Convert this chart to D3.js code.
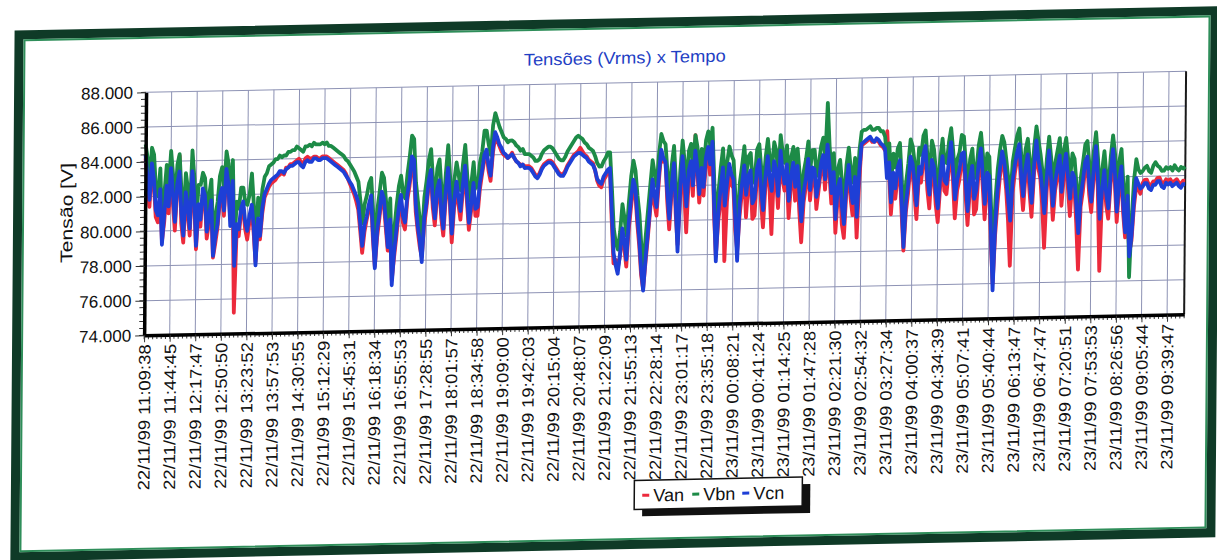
<!DOCTYPE html>
<html>
<head>
<meta charset="utf-8">
<script src="https://cdn.jsdelivr.net/npm/d3@7"></script>
<style>
  body { margin: 0; background: #ffffff; }
  svg { display: block; }
  text { font-family: Arial, "Liberation Sans", Helvetica, sans-serif; }
</style>
</head>
<body>
<svg id="chart" width="1217" height="560"></svg>
<script>
// Category labels along the time axis (one every twelve samples)
const timeLabels = [
  "22/11/99 11:09:38", "22/11/99 11:44:45", "22/11/99 12:17:47", "22/11/99 12:50:50",
  "22/11/99 13:23:52", "22/11/99 13:57:53", "22/11/99 14:30:55", "22/11/99 15:12:29",
  "22/11/99 15:45:31", "22/11/99 16:18:34", "22/11/99 16:55:53", "22/11/99 17:28:55",
  "22/11/99 18:01:57", "22/11/99 18:34:58", "22/11/99 19:09:00", "22/11/99 19:42:03",
  "22/11/99 20:15:04", "22/11/99 20:48:07", "22/11/99 21:22:09", "22/11/99 21:55:13",
  "22/11/99 22:28:14", "22/11/99 23:01:17", "22/11/99 23:35:18", "23/11/99 00:08:21",
  "23/11/99 00:41:24", "23/11/99 01:14:25", "23/11/99 01:47:28", "23/11/99 02:21:30",
  "23/11/99 02:54:32", "23/11/99 03:27:34", "23/11/99 04:00:37", "23/11/99 04:34:39",
  "23/11/99 05:07:41", "23/11/99 05:40:44", "23/11/99 06:13:47", "23/11/99 06:47:47",
  "23/11/99 07:20:51", "23/11/99 07:53:53", "23/11/99 08:26:56", "23/11/99 09:05:44",
  "23/11/99 09:39:47"
];
const samplesPerLabel = 12;

const yTicks = [74, 76, 78, 80, 82, 84, 86, 88];

const seriesNames = ["Van", "Vbn", "Vcn"];
const seriesColors = ["#ec2a3c", "#1d8b47", "#1e3fd6"];

// Phase-to-neutral RMS voltages [V], twelve readings per labelled interval
const van = [
  84.2, 82.8, 81.4, 83.6, 82.7, 80.8, 80.5, 82.1, 79.4, 80.5, 82.3, 81.0,
  83.2, 81.6, 80.0, 82.4, 84.3, 80.4, 79.3, 81.8, 81.0, 79.7, 83.0, 81.6,
  78.9, 81.1, 80.2, 82.1, 81.8, 79.5, 80.4, 81.4, 78.4, 79.2, 80.1, 81.6,
  82.1, 80.8, 83.3, 82.3, 80.6, 82.5, 75.2, 79.8, 79.6, 80.9, 81.3, 80.0,
  79.4, 80.4, 81.1, 79.8, 78.1, 80.2, 79.4, 80.9, 81.8, 82.1, 82.4, 82.6,
  82.7, 82.8, 83.0, 83.1, 83.2, 83.1, 83.5, 83.5, 83.7, 83.7, 83.8, 83.9,
  84.0, 83.8, 83.7, 84.0, 84.1, 84.0, 84.0, 84.1, 84.1, 84.0, 84.0, 84.1,
  84.1, 84.1, 84.0, 83.9, 83.8, 83.7, 83.6, 83.5, 83.4, 83.3, 83.1, 82.8,
  82.5, 82.2, 81.9, 81.5, 81.0, 79.8, 78.5, 79.7, 80.4, 81.0, 81.6, 79.3,
  77.7, 79.4, 80.5, 81.7, 81.3, 79.9, 78.6, 80.0, 76.9, 78.2, 79.4, 80.7,
  81.5, 80.2, 79.8, 81.5, 82.3, 83.5, 83.4, 80.8, 79.7, 78.8, 78.2, 80.0,
  81.0, 82.3, 83.0, 81.0, 80.0, 81.7, 82.3, 80.4, 79.4, 81.5, 83.0, 81.2,
  79.0, 81.0, 82.2, 81.2, 80.3, 81.9, 83.2, 81.3, 79.7, 80.8, 82.2, 80.5,
  80.5, 82.0, 82.9, 83.7, 84.2, 83.1, 82.5, 84.1, 85.0, 84.8, 84.5, 84.2,
  84.0, 83.9, 83.8, 83.9, 84.1, 83.8, 83.6, 83.5, 83.4, 83.4, 83.3, 83.3,
  83.3, 83.2, 83.0, 82.8, 82.7, 82.9, 83.2, 83.4, 83.5, 83.6, 83.6, 83.5,
  83.3, 83.1, 82.9, 82.8, 82.8, 83.0, 83.3, 83.5, 83.7, 83.9, 84.0, 84.1,
  84.3, 84.1, 83.9, 83.8, 83.6, 83.5, 83.4, 83.0, 82.4, 82.1, 82.0, 82.4,
  82.6, 82.9, 83.0, 80.1, 77.6, 77.8, 77.3, 78.0, 79.2, 78.5, 77.4, 79.5,
  80.8, 82.0, 81.6, 79.9, 78.6, 76.9, 76.1, 77.6, 79.0, 80.6, 82.1, 81.0,
  80.3, 82.3, 83.9, 83.4, 83.6, 81.1, 79.5, 81.6, 83.6, 80.4, 78.6, 81.2,
  83.4, 81.5, 79.3, 82.4, 83.0, 81.4, 84.9, 82.8, 81.0, 82.6, 81.4, 83.2,
  83.9, 82.6, 84.4, 80.3, 77.9, 79.9, 81.0, 82.6, 77.6, 81.0, 82.6, 82.0,
  81.8, 79.4, 78.2, 80.2, 81.5, 82.7, 80.1, 82.0, 82.4, 80.0, 80.2, 82.4,
  83.0, 81.0, 79.5, 81.8, 83.3, 81.6, 79.1, 82.8, 82.3, 80.6, 83.6, 82.2,
  81.6, 82.6, 80.0, 81.9, 82.8, 81.0, 82.6, 80.4, 78.6, 80.9, 81.8, 83.0,
  81.0, 82.4, 82.5, 80.5, 81.6, 82.7, 83.4, 81.6, 84.0, 82.5, 80.8, 82.1,
  79.1, 81.2, 81.8, 79.6, 78.8, 81.4, 82.6, 81.1, 80.1, 81.7, 78.8, 82.0,
  84.1, 84.2, 84.3, 84.4, 84.5, 84.3, 84.3, 84.4, 84.3, 84.1, 84.0, 83.8,
  84.9, 82.6, 80.1, 81.9, 81.0, 82.2, 82.8, 80.2, 78.0, 80.2, 81.3, 82.9,
  82.5, 81.2, 79.8, 82.3, 81.9, 83.1, 83.6, 81.5, 80.4, 82.7, 82.3, 80.6,
  79.6, 81.6, 83.0, 81.4, 81.2, 82.6, 83.8, 82.0, 79.8, 81.4, 82.0, 83.0,
  83.2, 81.1, 79.4, 81.5, 82.3, 80.0, 80.3, 82.4, 83.4, 81.6, 79.7, 81.8,
  81.7, 78.4, 76.0, 78.8, 80.6, 82.1, 83.2, 82.6, 81.4, 79.6, 77.0, 81.2,
  82.3, 83.1, 83.6, 81.6, 80.2, 82.1, 82.9, 81.2, 79.8, 82.2, 83.9, 82.6,
  82.0, 80.4, 78.0, 81.2, 83.2, 81.6, 79.6, 81.3, 82.1, 82.9, 80.4, 82.0,
  83.0, 81.4, 79.8, 81.8, 81.5, 79.4, 76.7, 80.3, 81.2, 82.5, 82.8, 81.0,
  80.0, 81.9, 83.4, 81.4, 76.6, 80.8, 82.0, 80.4, 79.6, 81.6, 83.2, 81.6,
  79.4, 81.3, 82.2, 79.9, 78.5, 80.4, 77.6, 78.3, 80.2, 81.4, 81.3, 81.0,
  81.6, 81.8, 81.8, 81.5, 81.5, 81.7, 81.7, 81.9, 81.9, 81.6, 81.6, 81.8,
  81.7, 81.8, 81.6, 81.7, 81.8, 81.6, 81.5, 81.7, 81.7
];
const vbn = [
  85.0, 84.2, 82.8, 84.8, 84.4, 82.4, 82.0, 83.6, 80.2, 82.2, 83.8, 82.6,
  84.6, 83.2, 81.6, 83.8, 84.4, 82.2, 80.8, 83.3, 82.4, 81.2, 84.6, 83.0,
  80.4, 82.6, 82.6, 83.3, 83.0, 81.0, 82.0, 82.9, 79.6, 80.8, 81.6, 83.1,
  83.6, 82.3, 84.5, 83.8, 81.4, 84.0, 79.2, 81.6, 81.2, 82.4, 82.4, 81.5,
  81.4, 82.0, 83.2, 81.4, 79.0, 81.8, 80.8, 82.3, 83.0, 83.2, 83.6, 83.7,
  83.8, 84.0, 84.0, 84.2, 84.1, 84.2, 84.2, 84.4, 84.4, 84.5, 84.5, 84.7,
  84.6, 84.5, 84.4, 84.7, 84.7, 84.8, 84.7, 84.9, 84.8, 84.8, 84.8, 84.9,
  84.8, 84.9, 84.7, 84.7, 84.6, 84.5, 84.4, 84.3, 84.2, 84.1, 83.9, 83.8,
  83.6, 83.4, 83.2, 82.9, 82.6, 81.5, 80.2, 81.3, 81.8, 82.5, 82.8, 80.9,
  79.0, 81.0, 82.0, 83.1, 82.8, 81.5, 80.0, 81.6, 77.8, 79.8, 81.2, 82.3,
  82.9, 81.9, 81.6, 83.0, 84.0, 85.2, 85.0, 82.5, 81.4, 80.3, 79.2, 81.6,
  82.6, 83.8, 84.4, 82.6, 81.6, 83.3, 83.8, 82.1, 81.0, 83.0, 84.6, 82.8,
  80.8, 82.6, 83.6, 82.9, 82.0, 83.5, 84.6, 82.9, 81.4, 82.4, 83.6, 82.1,
  82.2, 83.6, 84.2, 85.4, 85.4, 84.6, 84.0, 85.7, 86.4, 86.0, 85.6, 85.3,
  85.0, 84.9, 84.7, 84.8, 84.8, 84.7, 84.5, 84.4, 84.2, 84.3, 84.0, 84.0,
  84.0, 83.9, 83.8, 83.6, 83.6, 83.7, 84.0, 84.2, 84.3, 84.4, 84.4, 84.3,
  84.1, 83.9, 83.7, 83.6, 83.6, 83.8, 84.1, 84.3, 84.5, 84.7, 84.9, 85.0,
  84.9, 84.8, 84.6, 84.5, 84.3, 84.2, 84.1, 83.8, 83.4, 83.2, 83.2, 83.5,
  83.7, 84.0, 84.0, 81.9, 79.6, 78.8, 78.4, 79.4, 81.0, 80.2, 79.2, 81.1,
  82.6, 83.5, 82.9, 81.5, 80.4, 78.6, 77.4, 79.1, 80.6, 82.1, 83.5, 82.7,
  82.0, 83.9, 85.0, 84.6, 84.4, 82.8, 81.4, 83.2, 84.3, 82.2, 79.6, 82.8,
  84.6, 83.4, 82.0, 84.0, 84.4, 83.1, 84.9, 84.2, 82.6, 84.1, 83.0, 84.6,
  85.1, 84.3, 85.3, 82.2, 79.0, 81.6, 83.0, 84.1, 82.0, 83.3, 84.2, 83.7,
  83.4, 81.3, 79.0, 82.1, 83.1, 84.2, 82.6, 83.6, 83.8, 82.1, 82.4, 84.0,
  84.3, 82.9, 81.8, 83.5, 84.6, 83.4, 82.8, 84.4, 83.9, 82.5, 84.8, 83.8,
  83.2, 84.2, 82.3, 83.5, 84.1, 83.0, 84.0, 82.6, 81.2, 82.7, 83.4, 84.4,
  82.8, 83.9, 83.9, 82.4, 83.1, 84.1, 84.6, 83.4, 86.6, 84.1, 82.6, 83.7,
  81.2, 82.8, 83.3, 81.9, 81.0, 83.0, 84.0, 82.8, 82.0, 83.4, 81.4, 83.8,
  84.9, 85.0, 85.0, 85.1, 85.2, 85.0, 85.0, 85.1, 85.1, 84.9, 84.9, 84.6,
  83.3, 84.2, 82.0, 83.6, 82.8, 83.9, 84.2, 82.1, 79.6, 81.9, 83.0, 84.4,
  84.0, 83.0, 81.8, 83.9, 83.5, 84.6, 84.9, 83.3, 82.4, 84.3, 83.8, 82.5,
  81.6, 83.3, 84.4, 83.1, 83.0, 84.2, 85.0, 83.7, 82.1, 83.2, 83.6, 84.6,
  84.5, 82.9, 81.4, 83.2, 83.8, 82.1, 82.6, 84.0, 84.7, 83.4, 81.8, 83.5,
  83.3, 80.4, 77.0, 80.8, 82.6, 83.7, 84.5, 84.1, 83.1, 82.0, 80.9, 83.0,
  83.8, 84.5, 84.9, 83.3, 82.2, 83.7, 84.3, 83.0, 81.8, 83.8, 85.0, 84.2,
  83.4, 82.4, 81.2, 83.1, 84.4, 83.2, 81.6, 82.9, 83.6, 84.3, 82.4, 83.6,
  84.3, 83.1, 82.0, 83.4, 83.1, 81.6, 80.0, 82.0, 82.9, 83.9, 84.1, 82.7,
  81.8, 83.5, 84.6, 83.1, 80.8, 82.4, 83.5, 82.1, 81.4, 83.2, 84.4, 83.3,
  81.2, 82.9, 83.6, 81.6, 80.0, 82.0, 76.2, 79.5, 81.8, 83.0, 82.4, 82.2,
  82.3, 82.5, 82.6, 82.3, 82.2, 82.6, 82.8, 82.6, 82.5, 82.3, 82.3, 82.5,
  82.4, 82.5, 82.3, 82.6, 82.4, 82.3, 82.5, 82.4, 82.5
];
const vcn = [
  84.4, 83.1, 81.8, 83.9, 83.0, 81.2, 80.9, 82.4, 79.2, 81.0, 82.6, 81.4,
  83.6, 82.1, 80.5, 82.7, 83.4, 81.0, 79.7, 82.2, 81.4, 80.1, 83.4, 82.0,
  79.1, 81.5, 80.6, 82.4, 82.0, 79.9, 80.8, 81.7, 78.5, 79.6, 80.3, 81.9,
  82.4, 81.1, 83.5, 82.6, 80.2, 82.8, 77.9, 80.3, 80.0, 81.2, 81.6, 80.4,
  79.9, 80.8, 81.4, 80.2, 77.9, 80.6, 79.6, 81.2, 82.0, 82.3, 82.6, 82.8,
  82.9, 83.0, 83.1, 83.3, 83.3, 83.2, 83.4, 83.5, 83.6, 83.6, 83.7, 83.8,
  83.8, 83.6, 83.5, 83.8, 83.9, 83.8, 83.8, 84.0, 84.0, 83.9, 83.9, 84.0,
  84.0, 84.0, 83.9, 83.8, 83.7, 83.6, 83.5, 83.4, 83.3, 83.2, 83.0, 82.8,
  82.6, 82.4, 82.1, 81.8, 81.4, 80.2, 78.9, 80.1, 80.6, 81.3, 81.8, 79.6,
  77.6, 79.8, 80.8, 82.0, 81.6, 80.3, 78.8, 80.4, 76.6, 78.5, 79.8, 81.0,
  81.8, 80.6, 80.2, 81.8, 82.6, 84.0, 83.8, 81.2, 80.0, 79.1, 77.9, 80.4,
  81.3, 82.6, 83.2, 81.4, 80.4, 82.1, 82.6, 80.8, 79.8, 81.9, 83.3, 81.6,
  79.5, 81.4, 82.5, 81.6, 80.8, 82.3, 83.4, 81.7, 80.1, 81.2, 82.4, 80.9,
  81.0, 82.4, 83.1, 84.0, 84.3, 83.4, 82.8, 84.4, 85.3, 85.0, 84.6, 84.4,
  84.1, 84.0, 83.8, 83.9, 84.0, 83.8, 83.6, 83.5, 83.3, 83.4, 83.2, 83.2,
  83.2, 83.1, 82.9, 82.7, 82.6, 82.8, 83.1, 83.3, 83.4, 83.5, 83.5, 83.4,
  83.2, 83.0, 82.8, 82.7, 82.7, 82.9, 83.2, 83.4, 83.6, 83.8, 83.9, 84.0,
  84.0, 83.9, 83.8, 83.7, 83.5, 83.4, 83.3, 83.0, 82.5, 82.3, 82.2, 82.6,
  82.8, 83.0, 83.1, 80.6, 78.2, 77.5, 77.0, 78.1, 79.6, 78.9, 77.8, 79.9,
  81.3, 82.4, 81.9, 80.3, 79.0, 77.2, 76.0, 77.8, 79.3, 80.9, 82.4, 81.5,
  80.8, 82.7, 84.1, 83.6, 83.4, 81.6, 80.1, 82.0, 83.3, 80.9, 78.2, 81.6,
  83.7, 82.3, 80.8, 82.9, 83.4, 82.0, 84.0, 83.1, 81.5, 83.0, 81.9, 83.6,
  84.2, 83.2, 84.5, 80.9, 77.6, 80.4, 81.8, 83.0, 80.8, 82.1, 83.2, 82.6,
  82.3, 80.0, 77.6, 80.9, 82.0, 83.1, 81.4, 82.5, 82.8, 80.9, 81.2, 82.9,
  83.4, 81.7, 80.5, 82.4, 83.6, 82.3, 81.6, 83.3, 82.8, 81.3, 83.9, 82.7,
  82.0, 83.1, 81.0, 82.4, 83.2, 81.8, 83.0, 81.4, 79.8, 81.5, 82.3, 83.4,
  81.6, 82.9, 82.8, 81.2, 82.0, 83.1, 83.6, 82.2, 84.2, 83.0, 81.4, 82.6,
  79.9, 81.7, 82.2, 80.6, 79.6, 81.9, 83.0, 81.6, 80.8, 82.3, 80.0, 82.6,
  84.2, 84.3, 84.4, 84.5, 84.6, 84.4, 84.3, 84.5, 84.4, 84.2, 84.1, 83.9,
  82.2, 83.1, 80.8, 82.5, 81.6, 82.8, 83.2, 80.9, 78.2, 80.7, 81.8, 83.4,
  83.0, 81.9, 80.6, 82.8, 82.4, 83.5, 84.0, 82.1, 81.2, 83.2, 82.8, 81.3,
  80.4, 82.2, 83.4, 82.0, 81.8, 83.1, 84.2, 82.6, 80.9, 82.0, 82.6, 83.5,
  83.6, 81.8, 80.2, 82.1, 82.8, 80.9, 81.4, 82.9, 83.8, 82.2, 80.6, 82.4,
  82.2, 79.0, 75.6, 79.4, 81.4, 82.6, 83.6, 83.0, 82.0, 80.8, 79.6, 81.9,
  82.8, 83.5, 84.0, 82.2, 81.0, 82.6, 83.4, 81.9, 80.6, 82.7, 84.2, 83.1,
  82.4, 81.3, 80.0, 82.0, 83.6, 82.1, 80.4, 81.8, 82.6, 83.3, 81.2, 82.6,
  83.4, 82.0, 80.8, 82.3, 82.0, 80.4, 78.8, 80.9, 81.8, 82.9, 83.2, 81.6,
  80.6, 82.4, 83.8, 82.0, 79.6, 81.3, 82.4, 81.0, 80.2, 82.1, 83.6, 82.2,
  80.0, 81.8, 82.6, 80.4, 78.8, 80.9, 77.4, 78.6, 80.6, 81.9, 81.6, 81.3,
  81.4, 81.6, 81.6, 81.3, 81.2, 81.5, 81.5, 81.7, 81.7, 81.4, 81.3, 81.6,
  81.5, 81.6, 81.4, 81.5, 81.6, 81.4, 81.3, 81.5, 81.5
];

const series = [van, vbn, vcn];
const sampleCount = vcn.length;

// ---- layout -------------------------------------------------------------
const plot = { left: 144.5, right: 1184.5, top: 83, bottom: 326 };

const svg = d3.select("#chart");
// the whole sheet sits slightly skewed on the page
const page = svg.append("g")
  .attr("transform", "matrix(1,-0.0202,-0.008,1,2.24,12.28)");

// outer frame
page.append("rect")
  .attr("x", 17).attr("y", 23).attr("width", 1196).attr("height", 522)
  .attr("fill", "#ffffff").attr("stroke", "#0f3a27").attr("stroke-width", 9);
page.append("rect")
  .attr("x", 22.5).attr("y", 28.5).attr("width", 1185).attr("height", 511)
  .attr("fill", "none").attr("stroke", "#2f8e5a").attr("stroke-width", 2);

const x = d3.scaleLinear().domain([0, sampleCount - 1]).range([plot.left, plot.right]);
const y = d3.scaleLinear().domain([74, 88]).range([plot.bottom, plot.top]);

const labelIdx = timeLabels.map((_, i) => i * samplesPerLabel);

// grid
const grid = page.append("g").attr("stroke", "#8d92b4").attr("stroke-width", 1);
grid.selectAll("line.h").data(yTicks.slice(1)).join("line")
  .attr("x1", plot.left).attr("x2", plot.right)
  .attr("y1", d => y(d)).attr("y2", d => y(d));
grid.selectAll("line.v").data(labelIdx.slice(1)).join("line")
  .attr("x1", d => x(d)).attr("x2", d => x(d))
  .attr("y1", plot.top).attr("y2", plot.bottom);

// right border of the plot area
page.append("line")
  .attr("x1", x(sampleCount - 1)).attr("x2", x(sampleCount - 1))
  .attr("y1", y(88)).attr("y2", y(74))
  .attr("stroke", "#1a1a1a").attr("stroke-width", 2);

// series
const line = d3.line()
  .x((d, i) => x(i))
  .y(d => y(d))
  .curve(d3.curveLinear);

page.append("g").selectAll("path").data(series).join("path")
  .attr("d", d => line(d))
  .attr("fill", "none")
  .attr("stroke", (d, i) => seriesColors[i])
  .attr("stroke-width", 3.8)
  .attr("stroke-linejoin", "round");

// minor ticks
const minorY = d3.range(74, 88.001, 0.4);
page.append("g").selectAll("line").data(minorY).join("line")
  .attr("x1", plot.left - 5).attr("x2", plot.left)
  .attr("y1", d => y(d)).attr("y2", d => y(d))
  .attr("stroke", "#333").attr("stroke-width", 1);
page.append("g").selectAll("line").data(d3.range(0, sampleCount, 2)).join("line")
  .attr("x1", d => x(d)).attr("x2", d => x(d))
  .attr("y1", plot.bottom).attr("y2", plot.bottom + 4)
  .attr("stroke", "#333").attr("stroke-width", 1);

// y axis
const yAxis = page.append("g")
  .attr("transform", `translate(${plot.left},0)`)
  .call(d3.axisLeft(y).tickValues(yTicks).tickFormat(d3.format(".3f")).tickSize(9).tickSizeOuter(0).tickPadding(4));
yAxis.select(".domain").attr("stroke", "#000").attr("stroke-width", 3.5);
yAxis.selectAll(".tick line").attr("stroke", "#333");
yAxis.selectAll("text").attr("font-size", 17).attr("fill", "#111");

// x axis
const xAxis = page.append("g")
  .attr("transform", `translate(0,${plot.bottom})`)
  .call(d3.axisBottom(x).tickValues(labelIdx).tickFormat((d, i) => timeLabels[i]).tickSize(7).tickSizeOuter(0));
xAxis.select(".domain").attr("stroke", "#000").attr("stroke-width", 3.5);
xAxis.selectAll(".tick line").attr("stroke", "#333");
xAxis.selectAll("text")
  .attr("transform", "rotate(-90)")
  .attr("text-anchor", "end")
  .attr("x", -9).attr("y", 0).attr("dy", "0.36em")
  .attr("font-size", 16.5)
  .attr("textLength", 146).attr("lengthAdjust", "spacingAndGlyphs")
  .attr("fill", "#111");

// title
page.append("text")
  .attr("x", 623).attr("y", 64)
  .attr("text-anchor", "middle")
  .attr("font-size", 17)
  .attr("textLength", 202).attr("lengthAdjust", "spacingAndGlyphs")
  .attr("fill", "#1f3fc4")
  .text("Tensões (Vrms)  x Tempo");

// y axis title
page.append("text")
  .attr("transform", "translate(72,202) rotate(-90)")
  .attr("text-anchor", "middle")
  .attr("font-size", 17)
  .attr("textLength", 100).attr("lengthAdjust", "spacingAndGlyphs")
  .attr("fill", "#111")
  .text("Tensão [V]");

// legend
const lg = page.append("g").attr("transform", "translate(636,481)");
lg.append("rect").attr("x", 8).attr("y", 7).attr("width", 168).attr("height", 29).attr("fill", "#111");
lg.append("rect").attr("x", 0).attr("y", 0).attr("width", 168).attr("height", 29)
  .attr("fill", "#fff").attr("stroke", "#111").attr("stroke-width", 1.5);
const entryX = [8, 58, 108];
const entries = lg.selectAll("g.entry").data(seriesNames).join("g")
  .attr("transform", (d, i) => `translate(${entryX[i]},0)`);
entries.append("line")
  .attr("x1", 0).attr("x2", 7).attr("y1", 15).attr("y2", 15)
  .attr("stroke", (d, i) => seriesColors[i]).attr("stroke-width", 3);
entries.append("text")
  .attr("x", 11).attr("y", 21.5)
  .attr("font-size", 18).attr("fill", "#111")
  .text(d => d);
</script>
</body>
</html>
